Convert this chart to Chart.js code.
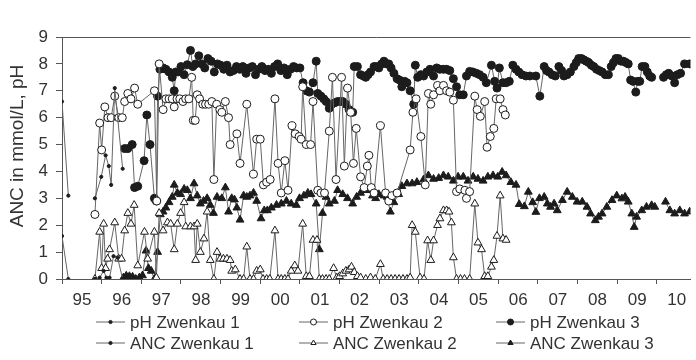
<!DOCTYPE html>
<html>
<head>
<meta charset="utf-8">
<script src="https://cdn.jsdelivr.net/npm/chart.js@4.4.1/dist/chart.umd.min.js"></script>
<style>
  html, body { margin: 0; padding: 0; background: #fff; }
  #wrap { width: 696px; height: 360px; }
</style>
</head>
<body>
<div id="wrap"><canvas id="chart" width="696" height="360"></canvas></div>
<script>
// decimal years; null values break the line
const ph1Dates = [1995.0, 1995.16, 1995.5, 1995.83, 1995.99, 1996.1, 1996.18, 1996.24, 1996.33, 1996.53];
const ph1Values = [6.6, 3.1, null, 3.0, 3.8, 4.6, 4.2, 3.5, 7.1, 4.1];

const anc1Dates = [1995.0, 1995.16, 1995.5, 1995.83, 1995.95, 1996.05, 1996.12, 1996.2, 1996.3, 1996.4, 1996.53];
const anc1Values = [1.6, 0, null, 0, 0.05, 0.3, 0.05, 0.05, 0.85, 0.8, 0.0];

const ph2Dates = [1995.83, 1995.95, 1996.0, 1996.08, 1996.16, 1996.24, 1996.33, 1996.43, 1996.52, 1996.58,
  1996.66, 1996.74, 1996.83, 1996.91, 1997.33, 1997.39, 1997.45, 1997.55, 1997.62, 1997.7,
  1997.78, 1997.83, 1997.9, 1997.97, 1998.05, 1998.12, 1998.2, 1998.27, 1998.31, 1998.36,
  1998.41, 1998.47, 1998.55, 1998.62, 1998.7, 1998.78, 1998.83, 1998.9, 1998.98, 1999.03,
  1999.12, 1999.2, 1999.24, 1999.41, 1999.49, 1999.66, 1999.83, 1999.91, 2000.0, 2000.08,
  2000.16, 2000.25, 2000.37, 2000.45, 2000.53, 2000.62, 2000.7, 2000.8, 2000.88, 2000.98,
  2001.03, 2001.07, 2001.16, 2001.27, 2001.33, 2001.45, 2001.53, 2001.62, 2001.74, 2001.82,
  2001.91, 2002.05, 2002.12, 2002.2, 2002.28, 2002.35, 2002.42, 2002.53, 2002.62, 2002.7,
  2002.74, 2002.8, 2002.87, 2003.03, 2003.16, 2003.24, 2003.32, 2003.45, 2003.78, 2003.85,
  2003.93, 2004.05, 2004.16, 2004.24, 2004.3, 2004.37, 2004.47, 2004.53, 2004.62, 2004.7,
  2004.78, 2004.87, 2004.95, 2005.03, 2005.16, 2005.2, 2005.28, 2005.41, 2005.47, 2005.55,
  2005.66, 2005.72, 2005.8, 2005.89, 2005.95, 2006.05, 2006.12, 2006.18];
const ph2Values = [2.4, 5.8, 4.8, 6.4, 6.0, 6.0, 6.8, 6.0, 6.0, 6.6,
  6.9, 6.7, 7.1, 6.5, 7.0, 2.9, 8.0, 6.3, 6.7, 6.7,
  6.7, 6.4, 6.7, 6.7, 6.6, 6.7, 6.7, 7.5, 5.9, 5.9,
  6.85, 6.7, 6.5, 6.5, 6.5, 6.6, 3.7, 6.5, 6.3, 6.2,
  6.6, 6.0, 5.0, 5.4, 4.3, 6.5, 3.9, 5.2, 5.2, 3.5,
  3.6, 3.7, 6.7, 4.3, 3.2, 4.4, 3.3, 5.7, 5.4, 5.3,
  5.2, 7.15, 5.0, 5.0, 6.6, 3.3, 3.2, 3.2, 5.5, 7.5,
  3.7, 7.5, 4.2, 7.1, 6.2, 4.3, 5.6, 3.8, 3.4, 4.2,
  4.6, 3.4, 3.2, 5.7, 3.2, 2.9, 3.1, 3.2, 4.8, 6.2,
  6.7, 5.3, 3.5, 6.9, 6.5, 6.85, 7.2, 7.0, 7.2, 7.0,
  6.95, 6.65, 3.25, 3.35, 3.3, 3.0, 3.25, 6.8, 6.3, 6.05,
  6.6, 4.9, 5.3, 5.6, 6.7, 6.7, 6.3, 6.1];

const ph3Dates = [1996.58, 1996.66, 1996.77, 1996.83, 1996.91, 1997.07, 1997.14, 1997.22, 1997.33, 1997.38,
  1997.41, 1997.47, 1997.55, 1997.62, 1997.7, 1997.78, 1997.83, 1997.87, 1997.93, 1998.0,
  1998.08, 1998.16, 1998.24, 1998.3, 1998.37, 1998.45, 1998.53, 1998.6, 1998.68, 1998.76,
  1998.84, 1998.92, 1999.0, 1999.08, 1999.16, 1999.24, 1999.32, 1999.4, 1999.48, 1999.56,
  1999.64, 1999.72, 1999.8, 1999.88, 1999.96, 2000.04, 2000.12, 2000.2, 2000.28, 2000.36,
  2000.44, 2000.52, 2000.6, 2000.68, 2000.76, 2000.84, 2000.92, 2001.0, 2001.08, 2001.16,
  2001.24, 2001.33, 2001.41, 2001.45, 2001.53, 2001.6, 2001.66, 2001.74, 2001.8, 2001.87,
  2001.95, 2002.02, 2002.08, 2002.16, 2002.24, 2002.33, 2002.37, 2002.45, 2002.53, 2002.6,
  2002.66, 2002.72, 2002.78, 2002.87, 2002.93, 2002.99, 2003.06, 2003.12, 2003.18, 2003.24,
  2003.3, 2003.37, 2003.45, 2003.51, 2003.57, 2003.64, 2003.7, 2003.78, 2003.87, 2003.91,
  2003.97, 2004.05, 2004.12, 2004.2, 2004.28, 2004.37, 2004.45, 2004.53, 2004.62, 2004.7,
  2004.78, 2004.87, 2004.95, 2005.03, 2005.12, 2005.2, 2005.28, 2005.36, 2005.45, 2005.53,
  2005.62, 2005.7, 2005.83, 2005.91, 2005.97, 2006.03, 2006.12, 2006.2, 2006.28, 2006.37,
  2006.45, 2006.52, 2006.6, 2006.7, 2006.8, 2006.95, 2007.05, 2007.16, 2007.22, 2007.28,
  2007.36, 2007.44, 2007.53, 2007.6, 2007.66, 2007.74, 2007.82, 2007.91, 2007.97, 2008.03,
  2008.1, 2008.16, 2008.22, 2008.28, 2008.35, 2008.41, 2008.48, 2008.55, 2008.62, 2008.7,
  2008.78, 2008.85, 2008.91, 2008.97, 2009.03, 2009.1, 2009.16, 2009.22, 2009.28, 2009.34,
  2009.4, 2009.47, 2009.52, 2009.57, 2009.63, 2009.7, 2009.76, 2009.82, 2009.87, 2010.05,
  2010.17, 2010.24, 2010.3, 2010.38, 2010.45, 2010.52, 2010.6, 2010.7, 2010.83];
const ph3Values = [4.85, 4.85, 5.0, 3.4, 3.45, 4.4, 6.1, 5.0, 3.0, 2.9,
  6.8, 7.8, 7.85, 7.8, 7.7, 7.5, 7.0, 7.7, 7.7, 7.9,
  7.6, 7.97, 8.5, 7.9, 8.0, 8.3, 8.0, 7.85, 8.2, 8.1,
  7.7, 8.0, 7.95, 7.8, 7.95, 7.7, 7.75, 7.9, 7.8, 7.9,
  7.65, 7.85, 7.9, 7.6, 7.8, 7.9, 7.75, 7.8, 7.65, 7.9,
  8.0, 7.75, 7.85, 7.6, 7.8, 7.9, 7.85, 7.85, 7.3, 7.0,
  6.95, 7.3, 8.1, 6.9, 6.8, 6.7, 6.6, 6.35, 6.5, 6.55,
  6.6, 6.6, 6.6, 6.5, 6.3, 6.2, 7.9, 7.9, 7.6, 7.55,
  7.5, 7.6, 7.7, 7.9, 7.9, 7.85, 8.0, 8.1, 8.0, 8.0,
  7.85, 7.65, 7.45, 7.4, 7.15, 7.35, 7.3, 7.0, 6.5, 7.95,
  7.5, 7.6, 7.55, 7.7, 7.8, 7.55, 7.85, 7.8, 7.8, 7.8,
  7.75, 7.45, 7.15, 6.85, 6.85, 7.55, 7.72, 7.7, 7.65, 7.6,
  7.5, 7.3, 7.95, 7.35, 7.1, 7.85, 7.3, 7.3, 7.35, 7.95,
  7.8, 7.7, 7.6, 7.55, 7.55, 7.55, 6.8, 7.9, 7.75, 7.7,
  7.6, 7.55, 7.9, 7.75, 7.55, 7.6, 7.7, 7.9, 8.05, 8.2,
  8.2, 8.15, 8.1, 8.05, 7.95, 7.9, 7.8, 7.75, 7.7, 7.6,
  7.6, 7.9, 8.05, 8.2, 8.2, 8.1, 8.1, 8.05, 8.0, 7.4,
  7.35, 6.95, 7.35, 7.35, 7.9, 7.9, 7.7, 7.55, 7.5, null,
  7.5, 7.6, 7.65, 7.55, 7.3, 7.6, 7.65, 8.0, 8.0];

const anc2Dates = [1995.83, 1995.95, 1996.0, 1996.05, 1996.1, 1996.15, 1996.2, 1996.33, 1996.43, 1996.5,
  1996.58, 1996.66, 1996.74, 1996.82, 1996.91, 1997.08, 1997.16, 1997.33, 1997.38, 1997.45,
  1997.55, 1997.66, 1997.74, 1997.83, 1997.91, 1997.99, 1998.08, 1998.12, 1998.24, 1998.33,
  1998.37, 1998.41, 1998.49, 1998.58, 1998.66, 1998.74, 1998.83, 1998.91, 1998.99, 1999.07,
  1999.16, 1999.24, 1999.28, 1999.37, 1999.49, 1999.58, 1999.66, 1999.74, 1999.83, 1999.91,
  2000.0, 2000.07, 2000.16, 2000.24, 2000.37, 2000.45, 2000.53, 2000.62, 2000.7, 2000.78,
  2000.87, 2000.95, 2001.07, 2001.16, 2001.24, 2001.33, 2001.43, 2001.49, 2001.57, 2001.66,
  2001.74, 2001.85, 2001.93, 2002.0, 2002.08, 2002.16, 2002.24, 2002.3, 2002.37, 2002.45,
  2002.53, 2002.66, 2002.78, 2002.9, 2003.03, 2003.1, 2003.2, 2003.3, 2003.4, 2003.5,
  2003.6, 2003.7, 2003.78, 2003.83, 2003.91, 2004.03, 2004.13, 2004.22, 2004.3, 2004.37,
  2004.47, 2004.53, 2004.62, 2004.7, 2004.76, 2004.82, 2004.87, 2004.95, 2005.05, 2005.15,
  2005.28, 2005.41, 2005.49, 2005.58, 2005.66, 2005.74, 2005.83, 2005.89, 2005.97, 2006.05,
  2006.12, 2006.2];
const anc2Values = [0, 1.75, 0.4, 2.05, 0.4, 0.75, 1.1, 2.1, 0.75, 0.75,
  1.8, 2.45, 2.05, 2.75, 0.5, 1.75, 0.75, 1.75, 0.05, 2.45,
  1.8, 2.1, 2.05, 1.1, 2.05, 2.45, 2.85, 1.95, 1.95, 1.95,
  0.7, 2.05, 1.0, 1.5, 2.5, 0.7, 0, 1.0, 0.75, 0.75,
  0.75, 0.7, 0.3, 0.35, 0, 0, 1.2, 0, 0, 0.3,
  0.35, 0, 0, 0, 1.8, 0, 0, 0, 0, 0.3,
  0.5, 0.3, 2.05, 0.1, 0.1, 1.45, 1.45, 0, 0, 0,
  0, 0.4, 0.05, 0.1, 0.2, 0.3, 0.35, 0.45, 0.25, 0.1,
  0.05, 0, 0.05, 0, 0.55, 0, 0, 0, 0, 0,
  0, 0, 0.05, 2.0, 1.75, 0.05, 0, 1.43, 0.7, 1.43,
  2.0, 2.25, 2.55, 2.55, 2.5, 2.1, 0.8, 0, 0, 0,
  0, 2.8, 1.35, 1.1, 0.1, 0.1, 0.45, 0.7, 1.6, 3.1,
  1.5, 1.45];

const anc3Dates = [1996.55, 1996.62, 1996.7, 1996.78, 1996.86, 1996.95, 1997.03, 1997.12, 1997.18, 1997.25,
  1997.33, 1997.41, 1997.48, 1997.55, 1997.62, 1997.7, 1997.78, 1997.83, 1997.91, 1997.99,
  1998.08, 1998.16, 1998.24, 1998.33, 1998.41, 1998.49, 1998.57, 1998.66, 1998.74, 1998.82,
  1998.91, 1999.03, 1999.12, 1999.2, 1999.28, 1999.35, 1999.41, 1999.49, 1999.58, 1999.66,
  1999.74, 1999.83, 1999.91, 2000.02, 2000.1, 2000.18, 2000.28, 2000.41, 2000.53, 2000.66,
  2000.78, 2000.91, 2000.99, 2001.1, 2001.2, 2001.28, 2001.41, 2001.49, 2001.57, 2001.66,
  2001.74, 2001.87, 2001.95, 2002.08, 2002.2, 2002.33, 2002.43, 2002.53, 2002.62, 2002.74,
  2002.83, 2002.91, 2002.99, 2003.12, 2003.2, 2003.28, 2003.37, 2003.49, 2003.57, 2003.7,
  2003.83, 2003.95, 2004.12, 2004.24, 2004.37, 2004.5, 2004.62, 2004.74, 2004.87, 2004.99,
  2005.12, 2005.24, 2005.37, 2005.49, 2005.62, 2005.74, 2005.87, 2005.99, 2006.1, 2006.2,
  2006.32, 2006.45, 2006.53, 2006.66, 2006.76, 2006.87, 2006.95, 2007.04, 2007.16, 2007.24,
  2007.32, 2007.41, 2007.49, 2007.62, 2007.74, 2007.87, 2007.99, 2008.12, 2008.24, 2008.33,
  2008.45, 2008.53, 2008.62, 2008.74, 2008.87, 2008.99, 2009.12, 2009.2, 2009.28, 2009.37,
  2009.43, 2009.49, 2009.62, 2009.74, 2009.87, 2009.95, 2010.1, 2010.22, 2010.33, 2010.45,
  2010.58, 2010.7, 2010.83];
const anc3Values = [0.05, 0.12, 0.1, 0.08, 0.0, 0.05, 0.13, 1.05, 0.4, 0.3,
  0, 1.0, 2.4, 2.5, 2.65, 2.85, 3.05, 3.5, 3.2, 3.15,
  3.35, 3.3, 3.0, 3.55, 3.1, 2.8, 2.9, 3.0, 2.75, 2.45,
  3.05, 3.0, 3.4, 2.5, 3.0, 2.95, 2.65, 2.2, 3.1, 3.05,
  3.1, 3.2, 2.9, 2.25, 2.55, 2.55, 2.65, 2.75, 2.8, 2.9,
  2.8, 2.75, 3.0, 3.1, 3.2, 3.15, 2.8, 1.1, 2.45, 3.05,
  2.8, 2.9, 3.3, 3.15, 3.0, 2.8, 3.05, 3.2, 3.3, 3.3,
  3.1, 3.0, 3.15, 3.1, 3.05, 2.5, 2.85, 3.15, 3.45, 3.55,
  3.55, 3.6, 3.7, 3.85, 3.72, 3.75, 3.85, 3.8, 3.65, 3.8,
  3.8, 3.65, 3.8, 3.72, 3.65, 3.8, 3.85, 3.8, 3.98, 3.85,
  3.6, 3.5, 2.78, 2.7, 3.24, 2.85, 2.49, 3.0, 3.05, 2.8,
  2.68, 2.8, 2.55, 2.93, 3.24, 3.05, 2.87, 2.87, 2.68, 2.43,
  2.18, 2.31, 2.43, 2.68, 2.93, 3.1, 2.99, 3.05, 2.87, 2.43,
  1.93, 2.31, 2.55, 2.68, 2.74, 2.68, null, 2.87, 2.55, 2.43,
  2.55, 2.43, 2.5];

const yearTicks = [1995, 1996, 1997, 1998, 1999, 2000, 2001, 2002, 2003, 2004, 2005, 2006, 2007, 2008, 2009, 2010];
const yTitle = 'ANC in mmol/L, pH';

const FONT = '"Liberation Sans", Arial, sans-serif';
const INK = '#1c1c1c';
const LINE = '#666';
const TEXT = '#333';

function pts(dates, values) {
    return dates.map((d, i) => ({ x: d, y: values[i] }));
}

function series(label, dates, values, style, radius, fill) {
    return {
        label: label,
        data: pts(dates, values),
        borderColor: LINE,
        borderWidth: 1,
        pointStyle: style,
        pointRadius: radius,
        pointBackgroundColor: fill,
        pointBorderColor: INK,
        pointBorderWidth: 1,
        tension: 0,
        spanGaps: false
    };
}

/* legend: two rows of three, line with marker in the middle; plus y title */
const rowLegend = {
    id: 'rowLegend',
    afterDraw(chart) {
        const ctx = chart.ctx;
        const cols = [96, 299, 496];
        const rows = [322, 343];
        ctx.save();
        chart.data.datasets.forEach((ds, i) => {
            const x = cols[i % 3];
            const y = rows[Math.floor(i / 3)];
            ctx.strokeStyle = LINE;
            ctx.lineWidth = 1;
            ctx.beginPath();
            ctx.moveTo(x, y);
            ctx.lineTo(x + 29, y);
            ctx.stroke();
            ctx.fillStyle = ds.pointBackgroundColor;
            ctx.strokeStyle = INK;
            Chart.helpers.drawPoint(ctx, {
                pointStyle: ds.pointStyle,
                radius: Math.min(ds.pointRadius, 3),
                rotation: 0,
                borderWidth: 1
            }, x + 14.5, y);
            ctx.fillStyle = TEXT;
            ctx.font = '17px ' + FONT;
            ctx.textBaseline = 'middle';
            ctx.textAlign = 'left';
            ctx.fillText(ds.label, x + 34, y + 1);
        });

        ctx.translate(18, 146);
        ctx.rotate(-Math.PI / 2);
        ctx.fillStyle = TEXT;
        ctx.font = '19px ' + FONT;
        ctx.textAlign = 'center';
        ctx.textBaseline = 'middle';
        ctx.fillText(yTitle, 0, 0);
        ctx.restore();
    }
};

new Chart(document.getElementById('chart'), {
    type: 'line',
    data: {
        datasets: [
            series('pH Zwenkau 1', ph1Dates, ph1Values, 'circle', 1.6, INK),
            series('pH Zwenkau 2', ph2Dates, ph2Values, 'circle', 4, '#fff'),
            series('pH Zwenkau 3', ph3Dates, ph3Values, 'circle', 4, INK),
            series('ANC Zwenkau 1', anc1Dates, anc1Values, 'circle', 1.6, INK),
            series('ANC Zwenkau 2', anc2Dates, anc2Values, 'triangle', 4.5, '#fff'),
            series('ANC Zwenkau 3', anc3Dates, anc3Values, 'triangle', 4.5, INK)
        ]
    },
    options: {
        responsive: false,
        animation: false,
        events: [],
        layout: { padding: { left: 4, right: 0, top: 37, bottom: 51 } },
        plugins: {
            legend: { display: false },
            tooltip: { enabled: false }
        },
        scales: {
            x: {
                type: 'linear',
                min: 1995,
                max: 2010.85,
                afterBuildTicks: s => { s.ticks = yearTicks.map(v => ({ value: v })); },
                afterFit: s => { s.height = 30; },
                ticks: {
                    autoSkip: false,
                    maxRotation: 0,
                    labelOffset: 20,
                    padding: 6,
                    color: TEXT,
                    font: { family: FONT, size: 17 },
                    callback: v => String(v % 100).padStart(2, '0')
                },
                grid: { drawOnChartArea: false, tickLength: 5, tickColor: '#555' },
                border: { color: '#555', width: 1 }
            },
            y: {
                min: 0,
                max: 9,
                afterFit: s => { s.width = 58; },
                ticks: {
                    stepSize: 1,
                    padding: 8,
                    color: TEXT,
                    font: { family: FONT, size: 17 }
                },
                grid: {
                    color: c => c.tick.value === 9 ? '#555' : 'rgba(0,0,0,0)',
                    tickColor: '#555',
                    tickLength: 6
                },
                border: { color: '#555', width: 1 }
            }
        }
    },
    plugins: [rowLegend]
});
</script>
</body>
</html>
